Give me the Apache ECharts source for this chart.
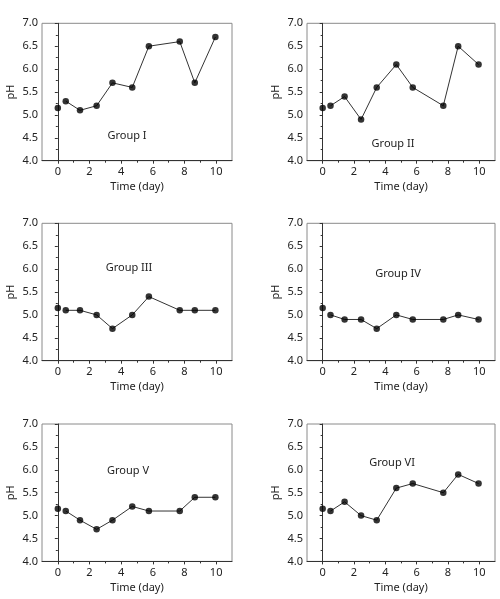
<!DOCTYPE html>
<html>
<head>
<meta charset="utf-8">
<script src="https://cdn.jsdelivr.net/npm/echarts@6/dist/echarts.min.js"></script>
<style>html,body{margin:0;padding:0;background:#fff}#c{width:500px;height:599px}</style>
</head>
<body>
<div id="c"></div>
<script>
const days = [0, 0.5, 1.4, 2.45, 3.45, 4.7, 5.75, 7.7, 8.65, 9.95];
const groupNames = ['Group I', 'Group II', 'Group III', 'Group IV', 'Group V', 'Group VI'];
const groupI   = [5.15, 5.3, 5.1, 5.2, 5.7, 5.6, 6.5, 6.6, 5.7, 6.7];
const groupII  = [5.15, 5.2, 5.4, 4.9, 5.6, 6.1, 5.6, 5.2, 6.5, 6.1];
const groupIII = [5.15, 5.1, 5.1, 5.0, 4.7, 5.0, 5.4, 5.1, 5.1, 5.1];
const groupIV  = [5.15, 5.0, 4.9, 4.9, 4.7, 5.0, 4.9, 4.9, 5.0, 4.9];
const groupV   = [5.15, 5.1, 4.9, 4.7, 4.9, 5.2, 5.1, 5.1, 5.4, 5.4];
const groupVI  = [5.15, 5.1, 5.3, 5.0, 4.9, 5.6, 5.7, 5.5, 5.9, 5.7];
const xMajorTicks = [0, 2, 4, 6, 8, 10];
const xMinorTicks = [1, 3, 5, 7, 9];
const yTicks = [4.0, 4.5, 5.0, 5.5, 6.0, 6.5, 7.0];

const allGroups = [groupI, groupII, groupIII, groupIV, groupV, groupVI];
const lefts = [42, 307];
const widths = [190, 188];
const tops = [23.3, 223.3, 424];
const H = 137.4;
const labelPos = [[127,136],[393,144],[129,268],[398,274],[128,471],[392,463]];
const font = 'Noto Sans';

const grid = [], xAxis = [], yAxis = [], series = [], graphic = [];
allGroups.forEach((vals, i) => {
  const col = i % 2, row = Math.floor(i / 2);
  grid.push({left: lefts[col], top: tops[row], width: widths[col], height: H,
    show: true, borderColor: '#8a8a8a', borderWidth: 1, containLabel: false});
  xAxis.push({type: 'value', gridIndex: i, min: -1, max: 11, position: 'bottom',
    name: 'Time (day)', nameLocation: 'middle', nameGap: 21,
    nameTextStyle: {fontFamily: font, fontSize: 11, color: '#222'},
    axisLine: {onZero: false, lineStyle: {color: '#333', width: 1}},
    axisTick: {show: true, length: 3, customValues: xMajorTicks, lineStyle: {color: '#333'}},
    axisLabel: {customValues: xMajorTicks, margin: 6, fontFamily: font, fontSize: 11, color: '#222'},
    splitLine: {show: false}});
  xAxis.push({type: 'value', gridIndex: i, min: -1, max: 11, position: 'bottom',
    axisLine: {show: false, onZero: false},
    axisTick: {show: true, length: 2, customValues: xMinorTicks, lineStyle: {color: '#333'}},
    axisLabel: {show: false}, splitLine: {show: false}});
  yAxis.push({type: 'value', gridIndex: i, min: 4, max: 7, interval: 0.5,
    name: 'pH', nameLocation: 'middle', nameGap: 26,
    nameTextStyle: {fontFamily: font, fontSize: 11, color: '#222'},
    axisLine: {show: true, lineStyle: {color: '#333', width: 1}},
    axisTick: {show: true, length: 3, lineStyle: {color: '#333'}},
    minorTick: {show: true, splitNumber: 2, length: 2, lineStyle: {color: '#333'}},
    axisLabel: {margin: 4, fontFamily: font, fontSize: 11, color: '#222',
      formatter: v => v.toFixed(1)},
    splitLine: {show: false}});
  const pts = days.map((d, k) => [d, vals[k]]);
  series.push({type: 'line', xAxisIndex: 2 * i, yAxisIndex: i, data: pts.slice(1),
    symbol: 'none', lineStyle: {color: '#333', width: 1}, silent: true, z: 2});
  series.push({type: 'scatter', xAxisIndex: 2 * i, yAxisIndex: i, data: pts,
    symbolSize: 6.5, itemStyle: {color: '#000'}, z: 3});
  graphic.push({type: 'text', x: labelPos[i][0], y: labelPos[i][1], z: 10,
    style: {text: groupNames[i], align: 'center', verticalAlign: 'middle',
      font: '11px "' + font + '"', fill: '#222'}});
});

const chart = echarts.init(document.getElementById('c'), null, {renderer: 'canvas'});
chart.setOption({animation: false, grid, xAxis, yAxis, series, graphic});
</script>
</body>
</html>
